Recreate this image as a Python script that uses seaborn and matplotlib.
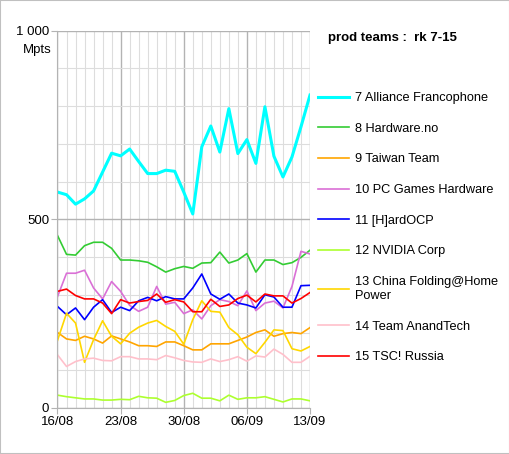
import numpy as np
import pandas as pd
import matplotlib
matplotlib.use("Agg")
import matplotlib.pyplot as plt
from matplotlib.patches import Rectangle
from matplotlib.ticker import MultipleLocator, FixedLocator, FuncFormatter
import seaborn as sns

# data (Mpts per day, 16/08 -> 13/09)
days = list(range(29))
tick_days = [0, 7, 14, 21, 28]
tick_labels = ["16/08", "23/08", "30/08", "06/09", "13/09"]

teams = ["7 Alliance Francophone", "8 Hardware.no", "9 Taiwan Team",
         "10 PC Games Hardware", "11 [H]ardOCP", "12 NVIDIA Corp",
         "13 China Folding@Home\nPower", "14 Team AnandTech", "15 TSC! Russia"]
colors = ["#00ffff", "#33cc33", "#ffa500", "#da70d6", "#0000ff",
          "#adff2f", "#ffd700", "#ffc0cb", "#ff0000"]

alliance = [572, 565, 540, 554, 575, 625, 675, 668, 686, 653, 621, 621, 630, 627, 572,
            514, 692, 747, 678, 793, 674, 711, 648, 798, 667, 612, 665, 745, 829]
hardware_no = [457, 407, 405, 430, 439, 439, 423, 392, 392, 390, 386, 374, 360, 369, 375,
               370, 384, 385, 413, 384, 392, 409, 360, 392, 392, 380, 385, 399, 418]
taiwan = [200, 183, 179, 190, 183, 172, 191, 183, 175, 165, 165, 163, 175, 175, 165,
          154, 154, 170, 170, 170, 179, 188, 200, 207, 190, 197, 200, 197, 213]
pcgh = [295, 357, 357, 365, 318, 289, 335, 309, 272, 256, 267, 322, 275, 280, 250,
        260, 236, 271, 287, 282, 271, 310, 258, 278, 283, 265, 322, 415, 408]
hardocp = [269, 247, 265, 234, 267, 287, 253, 267, 258, 284, 293, 284, 295, 289, 289,
           318, 355, 302, 288, 302, 278, 273, 265, 300, 294, 267, 267, 324, 325]
nvidia = [34, 30, 27, 24, 24, 21, 21, 23, 22, 31, 27, 26, 15, 20, 33,
          39, 26, 26, 19, 34, 23, 27, 27, 30, 23, 16, 24, 24, 19]
china = [179, 251, 225, 121, 181, 231, 190, 170, 198, 214, 225, 232, 216, 203, 169,
         234, 284, 256, 254, 213, 194, 161, 144, 174, 207, 205, 157, 151, 163]
anandtech = [141, 110, 123, 130, 132, 126, 125, 136, 136, 130, 130, 128, 139, 133, 126,
             122, 121, 130, 123, 128, 136, 124, 138, 135, 156, 142, 121, 121, 137]
tsc = [309, 315, 298, 289, 289, 278, 250, 287, 278, 282, 285, 302, 280, 287, 281,
       255, 255, 288, 269, 273, 290, 299, 281, 302, 297, 297, 278, 290, 306]

series = [alliance, hardware_no, taiwan, pcgh, hardocp, nvidia, china, anandtech, tsc]

df = pd.concat(
    [pd.DataFrame({"day": days, "mpts": vals, "team": name})
     for name, vals in zip(teams, series)],
    ignore_index=True,
)

plt.rcParams["font.family"] = ["Liberation Sans", "DejaVu Sans"]

fig = plt.figure(figsize=(5.10, 4.54), dpi=100)
ax = fig.add_axes([57.5 / 510, 1 - 408 / 454, (310 - 57.5) / 510, (408 - 30.5) / 454])

# grid first (behind lines)
ax.set_axisbelow(True)
ax.xaxis.set_major_locator(FixedLocator(tick_days))
ax.xaxis.set_minor_locator(MultipleLocator(1))
ax.yaxis.set_major_locator(MultipleLocator(500))
ax.yaxis.set_minor_locator(MultipleLocator(100))
ax.grid(which="major", color="#b3b3b3", linewidth=1.0)
ax.grid(which="minor", color="#dddddd", linewidth=0.8)

sns.lineplot(data=df, x="day", y="mpts", hue="team", palette=colors,
             hue_order=teams, ax=ax, legend=False)
for line, name in zip(ax.lines, teams):
    line.set_linewidth(2.2 if name.startswith("7 ") else 1.2)

ax.set_xlim(0, 28)
ax.set_ylim(0, 1000)
ax.set_xticklabels(tick_labels)
ax.yaxis.set_major_formatter(FuncFormatter(lambda v, p: f"{int(v):,}".replace(",", " ")))
ax.tick_params(which="major", length=4, color="#b3b3b3", labelsize=9.5, pad=2)
ax.tick_params(which="minor", length=0)
ax.set_xlabel("")
ax.set_ylabel("")
for s in ["top", "right"]:
    ax.spines[s].set_visible(False)
for s in ["left", "bottom"]:
    ax.spines[s].set_color("#b3b3b3")

fig.text(52 / 510, 1 - 50 / 454, "Mpts", ha="right", va="center", fontsize=9.5)

# legend
handles = [plt.Line2D([], [], color=c, lw=2.2 if i == 0 else 1.2)
           for i, c in enumerate(colors)]
fig.legend(handles, teams, loc="upper left", bbox_to_anchor=(313 / 510, 1 - 87 / 454),
           frameon=False, fontsize=9.2, handlelength=2.4, handletextpad=0.45,
           labelspacing=1.46, borderaxespad=0)
fig.text(328 / 510, 1 - 38 / 454, "prod teams :  rk 7-15", fontsize=9.5,
         fontweight="bold", ha="left", va="center")

fig.patches.append(Rectangle((0, 0), 1, 1, transform=fig.transFigure, fill=False,
                             edgecolor="#c0c0c0", linewidth=1.5))

fig.savefig("out.png", dpi=100)
